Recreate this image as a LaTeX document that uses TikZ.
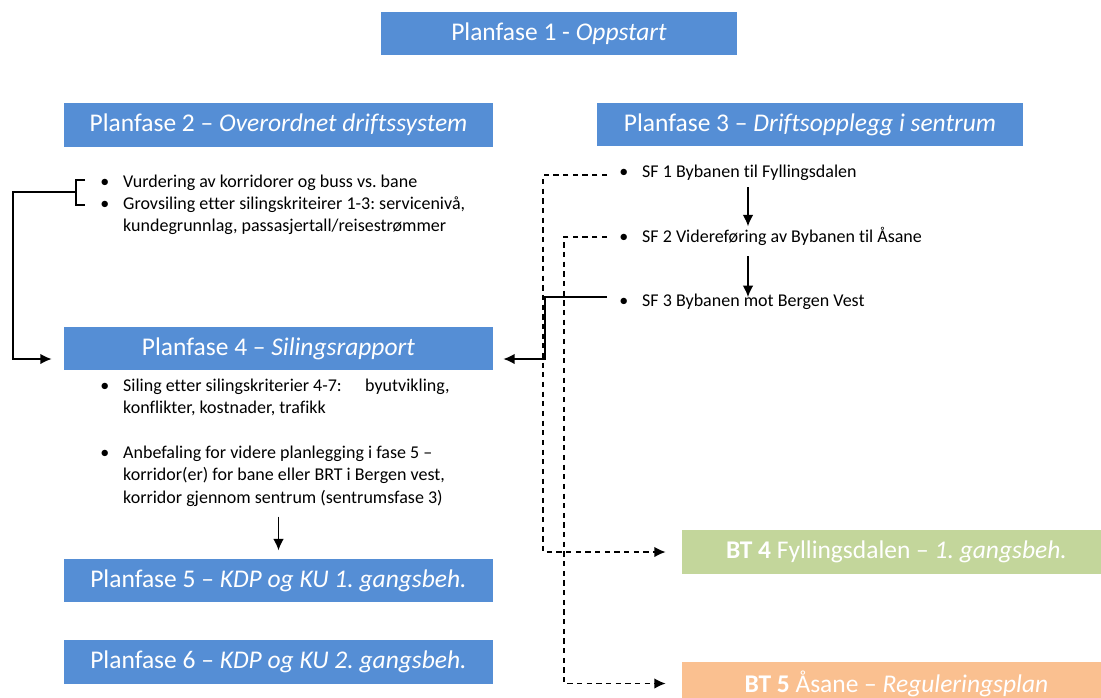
\documentclass[tikz,border=0pt]{standalone}
\usepackage{fontspec}
\setmainfont{Carlito}[Ligatures={TeX,NoCommon}]
\usetikzlibrary{positioning,calc,arrows.meta}
\definecolor{fasebla}{HTML}{558ED5}
\definecolor{btgronn}{HTML}{C3D69B}
\definecolor{btoransje}{HTML}{FAC090}
\frenchspacing

\begin{document}
\begin{tikzpicture}[x=0.02cm, y=-0.02cm,
        block/.style={rectangle, fill=fasebla, text=white, minimum width=8.58cm, minimum height=0.87cm, inner sep=0pt, font=\fontsize{14.5}{17}\selectfont},
        punkt/.style={inner sep=0pt, anchor=base west, font=\fontsize{10.25}{12.8}\selectfont, align=left},
        line/.style={draw, -{Latex[length=6.5pt,width=6pt]}, line width=0.95pt},
        stipla/.style={dash pattern=on 3pt off 2.5pt}]

        \clip (0,0) rectangle (1101,697);

        \node [block, minimum width=7.12cm] (p1) at (559,33.5) {Planfase 1 - \textit{Oppstart}};
        \node [block] (p2) at (278.5,125) {Planfase 2 -- \textit{Overordnet driftssystem}};
        \node [block, minimum width=8.52cm] (p3) at (810,124.5) {Planfase 3 -- \textit{Driftsopplegg i sentrum}};
        \node [block] (p4) at (278.5,348.5) {Planfase 4 -- \textit{Silingsrapport}};
        \node [block] (p5) at (278.5,580.5) {Planfase 5 -- \textit{KDP og KU 1. gangsbeh.}};
        \node [block] (p6) at (278.5,662) {Planfase 6 -- \textit{KDP og KU 2. gangsbeh.}};
        \node [block, fill=btgronn] (bt4) at (896.5,552) {\textbf{BT 4} Fyllingsdalen -- \textit{1. gangsbeh.}};
        \node [block, fill=btoransje] (bt5) at (896.5,683.5) {\textbf{BT 5} Åsane -- \textit{Reguleringsplan}};

        % punktlister
        \node [punkt] (liste2) at (100,187) {\begin{tabular}[t]{@{}p{13pt}@{}l@{}}
            \textbullet & Vurdering av korridorer og buss vs. bane\\
            \textbullet & Grovsiling etter silingskriteirer 1-3: servicenivå,\\
            & kundegrunnlag, passasjertall/reisestrømmer
        \end{tabular}};
        \node [punkt] (liste4) at (100,391) {\begin{tabular}[t]{@{}p{13pt}@{}l@{}}
            \textbullet & Siling etter silingskriterier 4-7:\hspace{11pt} byutvikling,\\
            & konflikter, kostnader, trafikk\\
            & \\
            \textbullet & Anbefaling for videre planlegging i fase 5 --\\
            & korridor(er) for bane eller BRT i Bergen vest,\\
            & korridor gjennom sentrum (sentrumsfase 3)
        \end{tabular}};
        \node [punkt] (sf1) at (619,177) {\makebox[13pt][l]{\textbullet}SF 1 Bybanen til Fyllingsdalen};
        \node [punkt] (sf2) at (619,242) {\makebox[13pt][l]{\textbullet}SF 2 Videreføring av Bybanen til Åsane};
        \node [punkt] (sf3) at (619,306) {\makebox[13pt][l]{\textbullet}SF 3 Bybanen mot Bergen Vest};

        \coordinate (pilx) at (748,0);
        \coordinate (klamme) at (76,192);

        % klamme og piler
        \draw [line width=0.95pt] (85,180) -- (76,180) -- (76,205) -- (85,205);
        \path [line] (klamme) -- ++(-63,0) |- ([yshift=-0.21cm]p4.west) [shorten >=0.24cm];
        \path [line, shorten <=0.14cm] (sf1.south -| pilx) -- (sf2.north -| pilx);
        \path [line, shorten <=0.22cm, shorten >=-0.08cm] (sf2.south -| pilx) -- (sf3.north -| pilx);
        \path [line, shorten <=0.12cm, shorten >=0.16cm] (liste4.south -| p5) -- (p5.north);

        \path [line, shorten >=0.2cm] ([xshift=-0.24cm,yshift=0.08cm]sf3.west) -- ++(-62,0) |- ([yshift=-0.21cm]p4.east);
        \path [line, stipla, shorten >=0.32cm] ([xshift=-0.24cm,yshift=-0.06cm]sf1.west) -- ++(-64,0) |- (bt4.west);
        \path [line, stipla, shorten >=0.32cm] ([xshift=-0.24cm,yshift=-0.02cm]sf2.west) -- ++(-43,0) |- (bt5.west);

    \end{tikzpicture}
\end{document}
